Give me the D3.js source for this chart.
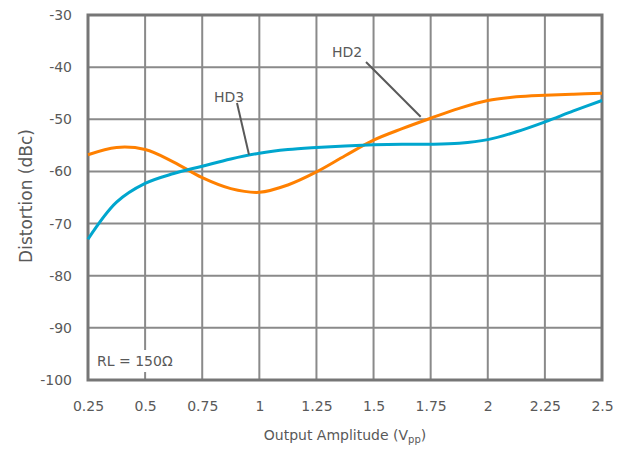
<!DOCTYPE html>
<html><head><meta charset="utf-8">
<script src="https://cdn.jsdelivr.net/npm/d3@7"></script>
<style>body{margin:0;background:#fff}svg{display:block}text{font-family:"DejaVu Sans",sans-serif;fill:#595959}</style>
</head><body>
<script>
const xTicks = [0.25,0.5,0.75,1,1.25,1.5,1.75,2,2.25,2.5];
const xTickLabels = ["0.25","0.5","0.75","1","1.25","1.5","1.75","2","2.25","2.5"];
const yTicks = [-100,-90,-80,-70,-60,-50,-40,-30];
const xs = [0.25,0.375,0.5,0.625,0.75,0.875,1,1.125,1.25,1.375,1.5,1.625,1.75,1.875,2,2.125,2.25,2.375,2.5];
const hd2 = [-56.8,-55.4,-55.8,-58.2,-61.2,-63.3,-64.0,-62.6,-60.1,-57.0,-54.0,-51.8,-49.8,-47.9,-46.4,-45.7,-45.4,-45.2,-45.0];
const hd3 = [-73.0,-65.9,-62.3,-60.4,-59.0,-57.6,-56.5,-55.8,-55.4,-55.1,-54.9,-54.8,-54.8,-54.6,-53.9,-52.4,-50.5,-48.4,-46.4];

const W=627,H=449, L=88,R=602,T=15,B=380;
const svg=d3.select("body").append("svg").attr("width",W).attr("height",H);
const x=d3.scaleLinear().domain([0.25,2.5]).range([L,R]);
const y=d3.scaleLinear().domain([-100,-30]).range([B,T]);

const grid=svg.append("g");
grid.selectAll(".vx").data(xTicks).join("line").attr("x1",d=>x(d)).attr("x2",d=>x(d)).attr("y1",T).attr("y2",B).attr("stroke","#8a8a8a").attr("stroke-width",2);
grid.selectAll(".hy").data(yTicks).join("line").attr("y1",d=>y(d)).attr("y2",d=>y(d)).attr("x1",L).attr("x2",R).attr("stroke","#8a8a8a").attr("stroke-width",2);
svg.append("rect").attr("x",L).attr("y",T).attr("width",R-L).attr("height",B-T).attr("fill","none").attr("stroke","#767676").attr("stroke-width",3);

const xa=svg.append("g").attr("transform",`translate(0,${B})`).call(d3.axisBottom(x).tickValues(xTicks).tickFormat((d,i)=>xTickLabels[i]).tickSize(0).tickPadding(21));
const ya=svg.append("g").attr("transform",`translate(${L},0)`).call(d3.axisLeft(y).tickValues(yTicks).tickFormat(d=>String(d)).tickSize(0).tickPadding(16));
[xa,ya].forEach(a=>{a.select(".domain").remove();a.selectAll("text").attr("font-size",14).attr("fill","#595959").attr("font-family","DejaVu Sans");});

const line=d3.line().x((d,i)=>x(xs[i])).y(d=>y(d)).curve(d3.curveCatmullRom.alpha(0.5));
svg.append("path").attr("d",line(hd2)).attr("fill","none").attr("stroke","#FF8000").attr("stroke-width",3);
svg.append("path").attr("d",line(hd3)).attr("fill","none").attr("stroke","#00A6CE").attr("stroke-width",3);

// annotations
svg.append("line").attr("x1",366).attr("y1",62).attr("x2",x(1.75)-10).attr("y2",y(-49.5)).attr("stroke","#595959").attr("stroke-width",2);
svg.append("line").attr("x1",237).attr("y1",103).attr("x2",249).attr("y2",y(-56.8)).attr("stroke","#595959").attr("stroke-width",2);
svg.append("text").attr("x",347).attr("y",57).attr("text-anchor","middle").attr("font-size",14).text("HD2");
svg.append("text").attr("x",229).attr("y",102).attr("text-anchor","middle").attr("font-size",14).text("HD3");
svg.append("rect").attr("x",93).attr("y",350).attr("width",88).attr("height",22).attr("fill","#fff");
svg.append("text").attr("x",97).attr("y",366).attr("font-size",14).text("RL = 150Ω");

const xt=svg.append("text").attr("x",345).attr("y",440).attr("text-anchor","middle").attr("font-size",14);
xt.append("tspan").text("Output Amplitude (V");
xt.append("tspan").attr("font-size",10).attr("dy",3).text("pp");
xt.append("tspan").attr("dy",-3).text(")");
svg.append("text").attr("transform",`translate(32,196) rotate(-90)`).attr("text-anchor","middle").attr("font-size",17).text("Distortion (dBc)");
</script>
</body></html>
